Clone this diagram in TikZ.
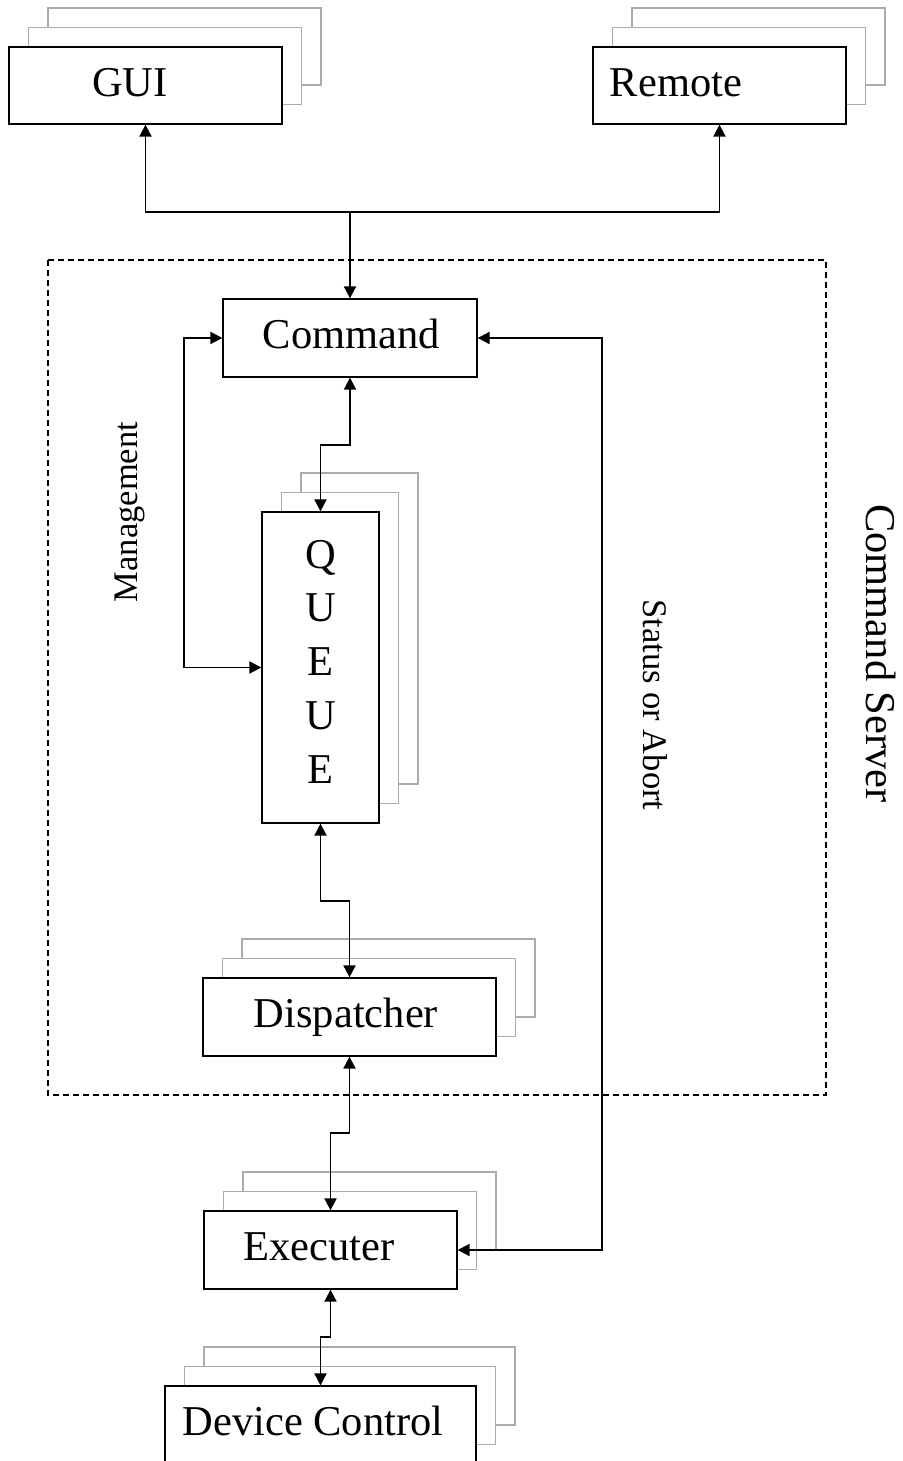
\documentclass[tikz,border=0pt]{standalone}
\usepackage{fontspec}
\setmainfont{Liberation Serif}
\usetikzlibrary{arrows.meta,shadows}
\definecolor{backgray}{gray}{0.67}
\begin{document}
\begin{tikzpicture}[x=1pt,y=-1pt,
  box/.style={draw, fill=white, line width=1.3pt, inner sep=0pt,
    copy shadow={shadow xshift=39pt, shadow yshift=39pt, draw=backgray, fill=white, line width=1.2pt},
    copy shadow={shadow xshift=19.5pt, shadow yshift=19.5pt, draw=backgray, fill=white, line width=1.2pt}},
  plainbox/.style={draw, fill=white, line width=1.3pt, inner sep=0pt},
  big/.style={font=\fontsize{42.5}{50}\selectfont, inner sep=0pt},
  small/.style={font=\fontsize{34.5}{40}\selectfont, inner sep=0pt},
  frame/.style={draw, line width=1.1pt, dash pattern=on 6pt off 4pt},
  arr/.style={line width=1.9pt, -{Triangle[length=12pt,width=12pt]}},
  both/.style={line width=1.9pt, {Triangle[length=12pt,width=12pt]}-{Triangle[length=12pt,width=12pt]}},
]
\useasboundingbox (0,0) rectangle (902,1461);
\clip (0,0) rectangle (902,1461);

% Command Server frame
\draw[frame] (48,260) rectangle (826,1095);

% boxes
\node[box, minimum width=273pt, minimum height=77pt] (gui) at (145.5,85.5) {};
\node[big, anchor=base] (guit) at (130,97) {GUI};
\node[box, minimum width=253pt, minimum height=77pt] (remote) at (719.5,85.5) {};
\node[big, anchor=base] (remotet) at (676,97) {Remote};
\node[plainbox, minimum width=254pt, minimum height=78pt] (cmd) at (350,338) {};
\node[big, anchor=base] (cmdt) at (351.5,348) {Command};
\node[box, minimum width=117pt, minimum height=311pt] (queue) at (320.5,667.5) {};
\foreach \l/\yy [count=\i] in {Q/568,U/621.75,E/675.5,U/729.25,E/783}
  \node[big, anchor=base] (q\i) at (320.5,\yy) {\l};
\node[box, minimum width=293pt, minimum height=78pt] (disp) at (349.5,1017) {};
\node[big, anchor=base] (dispt) at (346,1027) {Dispatcher};
\node[box, minimum width=253pt, minimum height=78pt] (exec) at (330.5,1250) {};
\node[big, anchor=base] (exect) at (319,1260) {Executer};
\node[box, minimum width=311pt, minimum height=78pt] (dev) at (320.5,1425) {};
\node[big, anchor=base] (devt) at (313,1435) {Device Control};

% labels
\node[small, rotate=90, anchor=base] (mgt) at (137,512) {Management};
\node[small, rotate=-90, anchor=base] (sta) at (643,705) {Status or Abort};
\node[big, rotate=-90, anchor=base] (cs) at (866,653.5) {Command Server};

% connectors
\coordinate (j) at (350,212);
\draw[arr] (j) -| (gui.south);
\draw[arr] (j) -| (remote.south);
\draw[arr] (j) -- (cmd.north);

\coordinate (ml) at (184,338);
\draw[both] (cmd.west) -- (ml) |- (queue.west);
\coordinate (sr) at (602,338);
\draw[both] (cmd.east) -- (sr) |- (exec.east);

\coordinate (cq) at (350,445);
\draw[both] (cmd.south) -- (cq) -| (queue.north);
\coordinate (qd) at (320.5,901);
\draw[both] (queue.south) -- (qd) -| (disp.north);
\coordinate (de) at (349.5,1133);
\draw[both] (disp.south) -- (de) -| (exec.north);
\coordinate (ed) at (330.5,1337);
\draw[both] (exec.south) -- (ed) -| (dev.north);
\end{tikzpicture}
\end{document}
